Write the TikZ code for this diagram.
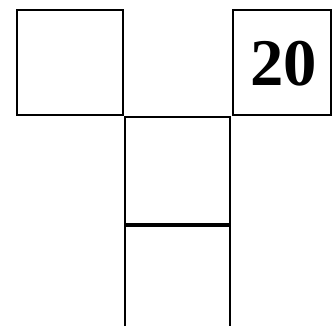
\documentclass[tikz,border=0pt]{standalone}
\usepackage{fontspec}
\setmainfont{Liberation Serif}
\begin{document}
\begin{tikzpicture}[x=0.75pt,y=-0.75pt,
  cell/.style={draw=black,line width=1.5pt,minimum width=106.5pt*0.75/0.75,inner sep=0pt},
  lbl/.style={font=\fontsize{50}{50}\selectfont\bfseries}]
\useasboundingbox (0,0) rectangle (333,326);
\draw[line width=1.5pt] (17,10) rectangle (123,115);
\node[coordinate] (lb) at (17,10) {};
\draw[line width=1.5pt] (233,10) rectangle (331,115);
\node[lbl] (t20) at (283.5,64) {20};
\draw[line width=1.5pt] (125,326) -- (125,117) -- (230,117) -- (230,326);
\draw[line width=3pt] (125,225) -- (230,225);
\end{tikzpicture}
\end{document}
